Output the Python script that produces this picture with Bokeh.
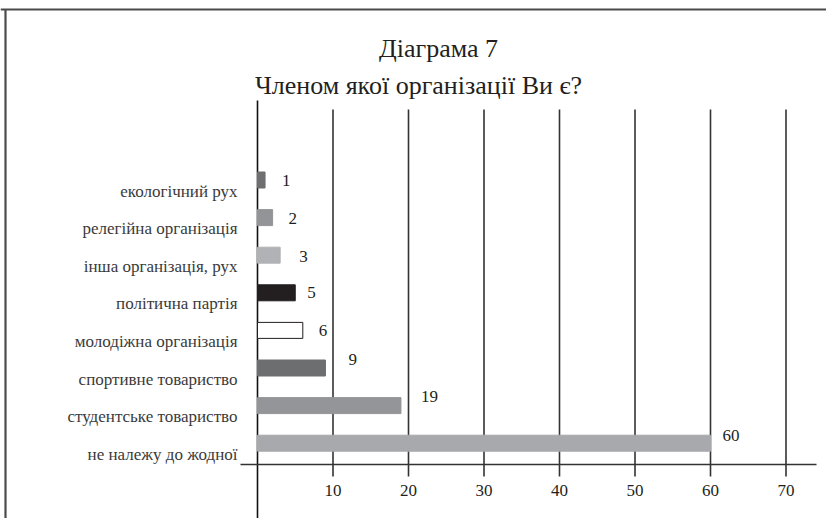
from bokeh.plotting import figure
from bokeh.models import Range1d, ColumnDataSource
from bokeh.core.properties import value
from bokeh.embed import file_html
from bokeh.resources import INLINE

# ---- data ----
categories = ["екологічний рух", "релегійна організація", "інша організація, рух",
              "політична партія", "молодіжна організація", "спортивне товариство",
              "студентське товариство", "не належу до жодної"]
counts = [1, 2, 3, 5, 6, 9, 19, 60]
x_ticks = [10, 20, 30, 40, 50, 60, 70]
tick_labels = ["10", "20", "30", "40", "50", "60", "70"]
title_lines = ["Діаграма 7", "Членом якої організації Ви є?"]

# ---- styles ----
bar_fill = ["#6f6f71", "#929497", "#b0b2b5", "#231f20", "#ffffff", "#6d6e70", "#939598", "#a7a9ac"]
bar_line = ["#6f6f71", "#929497", "#b0b2b5", "#231f20", "#231f20", "#6d6e70", "#939598", "#a7a9ac"]
label_dx = [17, 16, 19, 12, 16, 23, 20, 12]
label_dy = [0, 1, 1, 0, 0, -9, -9, -8]
FONT = "Liberation Serif"
TXT = "#231f20"
LINE = "#333333"

W, H = 826, 518
X0_PX, XS = 257.0, 7.55      # pixel of value 0, pixels per unit
Y0_PX, YS = 179.5, 37.6      # pixel of first category centre, pixels per category


def dx(sx):  # page pixel -> data x
    return (sx - X0_PX) / XS


def dy(sy):  # page pixel -> data y
    return (sy - Y0_PX) / YS


p = figure(width=W, height=H, output_backend="svg", toolbar_location=None,
           x_range=Range1d(-X0_PX / XS, (W - X0_PX) / XS),
           y_range=Range1d((H - Y0_PX) / YS, -Y0_PX / YS),
           x_axis_location=None, y_axis_location=None, min_border=0)
p.grid.visible = False
p.outline_line_color = None
p.background_fill_color = "white"
p.border_fill_color = "white"

idx = list(range(len(categories)))

# frame lines (top and left)
p.segment(x0=[dx(0), dx(5)], y0=[dy(9), dy(9)], x1=[dx(830), dx(5)], y1=[dy(9), dy(530)],
          line_color="#4a4a4a", line_width=2.2)

# vertical grid lines
p.segment(x0=x_ticks, x1=x_ticks, y0=[dy(109)] * len(x_ticks), y1=[dy(476)] * len(x_ticks),
          line_color=LINE, line_width=1.6)
# zero line
p.segment(x0=[0], x1=[0], y0=[dy(100)], y1=[dy(530)], line_color="#111111", line_width=1.6)
# horizontal axis line
p.segment(x0=[dx(240)], x1=[dx(816)], y0=[dy(464)], y1=[dy(464)], line_color=LINE, line_width=1.6)

# bars
src = ColumnDataSource(dict(y=idx, v=counts, fill=bar_fill, line=bar_line,
                            lab=[str(c) for c in counts], cat=categories,
                            ldx=label_dx, ldy=label_dy))
p.hbar(y="y", left=0, right="v", height=16 / YS, fill_color="fill", line_color="line",
       line_width=1, source=src)

# value labels
p.text(x="v", y="y", text="lab", x_offset="ldx", y_offset="ldy", source=src,
       text_font=value(FONT), text_font_size="17px", text_color=TXT,
       text_align="left", text_baseline="middle")

# category labels
p.text(x=0, y="y", text="cat", x_offset=-20, y_offset=11, source=src,
       text_font=value(FONT), text_font_size="17px", text_color="#3a3a3a",
       text_align="right", text_baseline="alphabetic")

# tick labels
p.text(x=x_ticks, y=[dy(490)] * len(x_ticks), text=tick_labels,
       text_font=value(FONT), text_font_size="17px", text_color=TXT,
       text_align="center", text_baseline="middle")

# title
p.text(x=[dx(438), dx(418)], y=[dy(48), dy(85)], text=title_lines,
       text_font=value(FONT), text_font_size="26px", text_color=TXT,
       text_align="center", text_baseline="alphabetic")

open("out.html", "w").write(file_html(p, INLINE))
